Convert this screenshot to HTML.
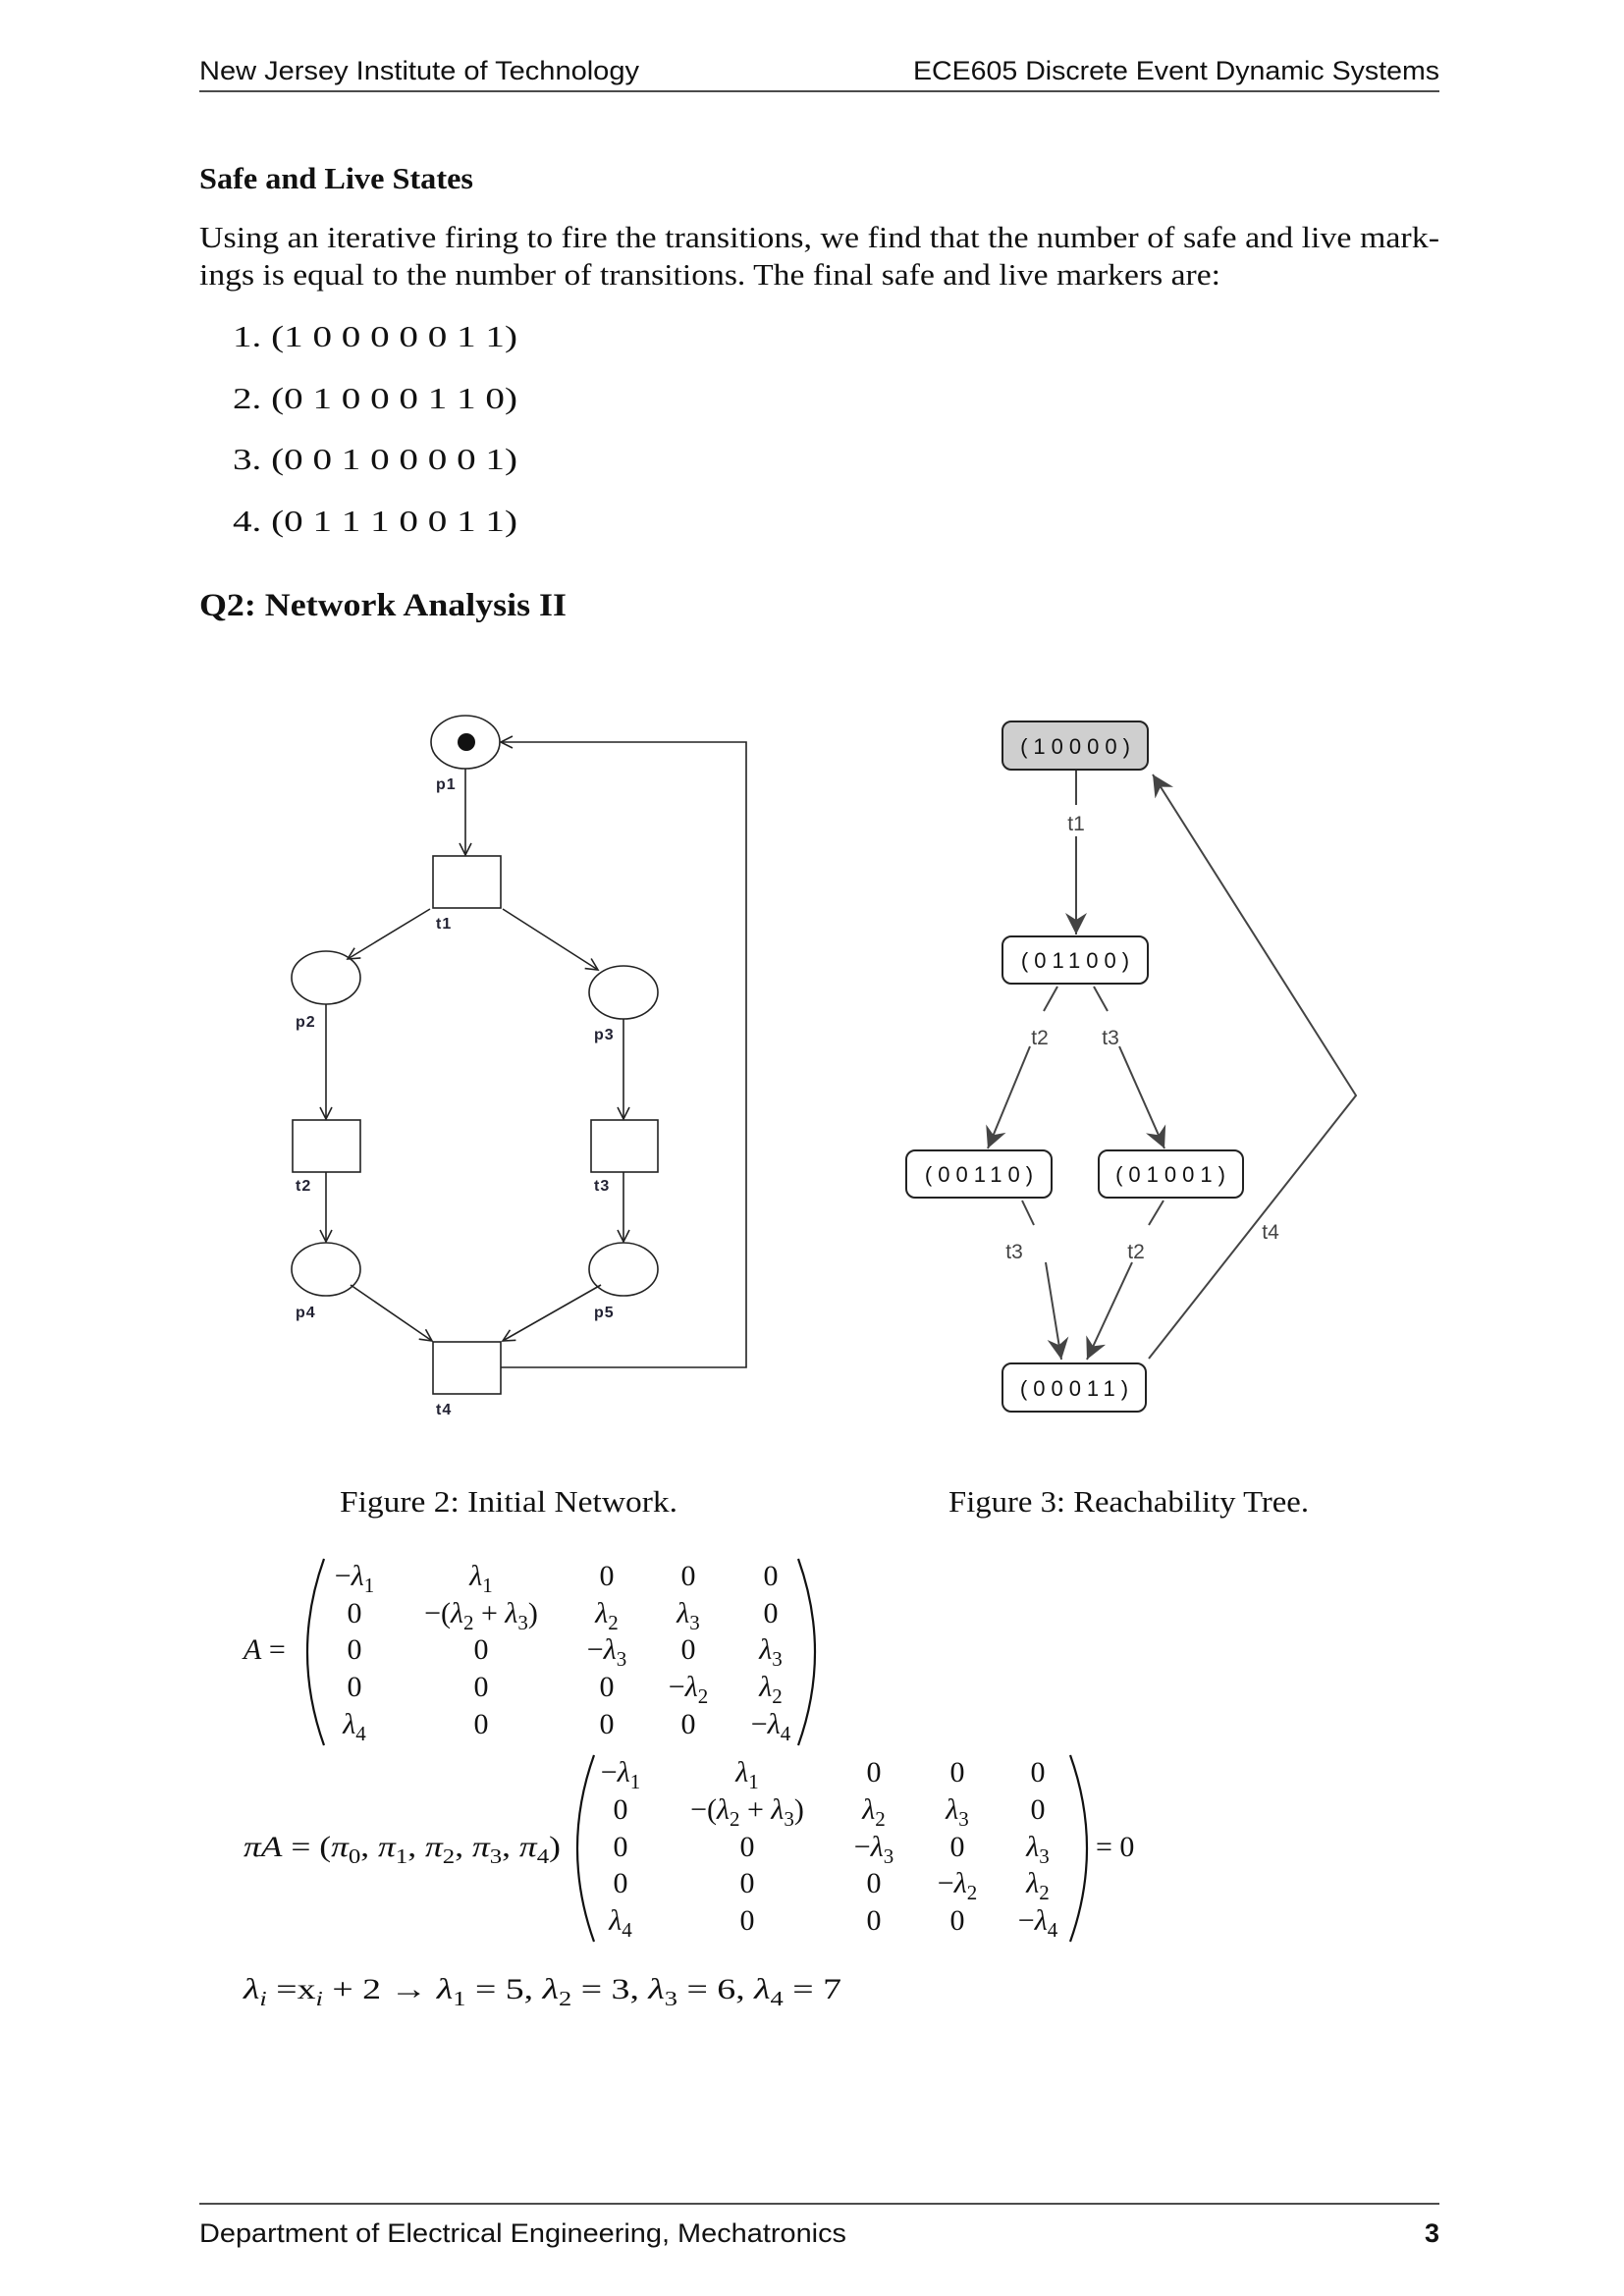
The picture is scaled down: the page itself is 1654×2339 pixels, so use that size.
<!DOCTYPE html>
<html><head><meta charset="utf-8"><style>
html,body{margin:0;padding:0;background:#fff;}
svg{display:block;}
.sans{font-family:"Liberation Sans",sans-serif;}
.ser{font-family:"Liberation Serif",serif;}
.it{font-style:italic;}
</style></head><body>
<svg width="1654" height="2339" viewBox="0 0 1654 2339" xmlns="http://www.w3.org/2000/svg">
<defs>
<marker id="va" markerUnits="userSpaceOnUse" markerWidth="20" markerHeight="20" refX="14" refY="7" orient="auto">
<path d="M2,1 L14,7 L2,13" fill="none" stroke="#222" stroke-width="1.6"/>
</marker>
<marker id="fa" markerUnits="userSpaceOnUse" markerWidth="30" markerHeight="30" refX="22" refY="11" orient="auto">
<path d="M0,0 L22,11 L0,22 L7,11 Z" fill="#444"/>
</marker>
</defs>
<g class="sans" font-size="27" fill="#111">
<text x="203" y="81" textLength="448" lengthAdjust="spacingAndGlyphs">New Jersey Institute of Technology</text>
<text x="1466" y="81" text-anchor="end" textLength="536" lengthAdjust="spacingAndGlyphs">ECE605 Discrete Event Dynamic Systems</text>
<text x="203" y="2284" textLength="659" lengthAdjust="spacingAndGlyphs">Department of Electrical Engineering, Mechatronics</text>
<text x="1466" y="2284" text-anchor="end" font-weight="bold">3</text>
</g>
<line x1="203" y1="93" x2="1466" y2="93" stroke="#111" stroke-width="1.6"/>
<line x1="203" y1="2245" x2="1466" y2="2245" stroke="#111" stroke-width="1.6"/>

<g class="ser" fill="#111" font-size="31">
<text x="203" y="192" font-weight="bold" textLength="279" lengthAdjust="spacingAndGlyphs">Safe and Live States</text>
<text x="203" y="252" textLength="1263" lengthAdjust="spacingAndGlyphs">Using an iterative firing to fire the transitions, we find that the number of safe and live mark-</text>
<text x="203" y="290" textLength="1040" lengthAdjust="spacingAndGlyphs">ings is equal to the number of transitions. The final safe and live markers are:</text>
<text x="237" y="353" textLength="290" lengthAdjust="spacingAndGlyphs">1. (1 0 0 0 0 0 1 1)</text>
<text x="237" y="416" textLength="290" lengthAdjust="spacingAndGlyphs">2. (0 1 0 0 0 1 1 0)</text>
<text x="237" y="478" textLength="290" lengthAdjust="spacingAndGlyphs">3. (0 0 1 0 0 0 0 1)</text>
<text x="237" y="541" textLength="290" lengthAdjust="spacingAndGlyphs">4. (0 1 1 1 0 0 1 1)</text>
<text x="203" y="627" font-weight="bold" font-size="33" textLength="374" lengthAdjust="spacingAndGlyphs">Q2: Network Analysis II</text>
<text x="346" y="1540" textLength="344" lengthAdjust="spacingAndGlyphs">Figure 2: Initial Network.</text>
<text x="966" y="1540" textLength="367" lengthAdjust="spacingAndGlyphs">Figure 3: Reachability Tree.</text>
</g>

<!-- Petri net -->
<g stroke="#222" stroke-width="1.6" fill="none">
<ellipse cx="474" cy="756" rx="35" ry="27"/>
<ellipse cx="332" cy="996" rx="35" ry="27"/>
<ellipse cx="635" cy="1011" rx="35" ry="27"/>
<ellipse cx="332" cy="1293" rx="35" ry="27"/>
<ellipse cx="635" cy="1293" rx="35" ry="27"/>
<rect x="441" y="872" width="69" height="53"/>
<rect x="298" y="1141" width="69" height="53"/>
<rect x="602" y="1141" width="68" height="53"/>
<rect x="441" y="1367" width="69" height="53"/>
<line x1="474" y1="783" x2="474" y2="871" marker-end="url(#va)"/>
<line x1="438" y1="926" x2="354" y2="977" marker-end="url(#va)"/>
<line x1="512" y1="926" x2="609" y2="988" marker-end="url(#va)"/>
<line x1="332" y1="1023" x2="332" y2="1140" marker-end="url(#va)"/>
<line x1="635" y1="1038" x2="635" y2="1140" marker-end="url(#va)"/>
<line x1="332" y1="1194" x2="332" y2="1265" marker-end="url(#va)"/>
<line x1="635" y1="1194" x2="635" y2="1265" marker-end="url(#va)"/>
<line x1="357" y1="1309" x2="440" y2="1366" marker-end="url(#va)"/>
<line x1="612" y1="1309" x2="512" y2="1366" marker-end="url(#va)"/>
<polyline points="510,1393 760,1393 760,756 510,756" marker-end="url(#va)"/>
</g>
<circle cx="475" cy="756" r="9" fill="#111"/>
<g class="sans" font-size="16" font-weight="bold" fill="#223" letter-spacing="1">
<text x="444" y="804">p1</text><text x="444" y="946">t1</text>
<text x="301" y="1046">p2</text><text x="605" y="1059">p3</text>
<text x="301" y="1213">t2</text><text x="605" y="1213">t3</text>
<text x="301" y="1342">p4</text><text x="605" y="1342">p5</text>
<text x="444" y="1441">t4</text>
</g>

<!-- Reachability tree -->
<g stroke="#444" stroke-width="2" fill="none">
<line x1="1096" y1="785" x2="1096" y2="820"/>
<line x1="1096" y1="852" x2="1096" y2="952" marker-end="url(#fa)"/>
<line x1="1077" y1="1005" x2="1063" y2="1030"/>
<line x1="1049" y1="1066" x2="1006" y2="1170" marker-end="url(#fa)"/>
<line x1="1114" y1="1005" x2="1128" y2="1030"/>
<line x1="1140" y1="1066" x2="1186" y2="1170" marker-end="url(#fa)"/>
<line x1="1041" y1="1223" x2="1053" y2="1248"/>
<line x1="1065" y1="1286" x2="1081" y2="1385" marker-end="url(#fa)"/>
<line x1="1185" y1="1223" x2="1170" y2="1248"/>
<line x1="1153" y1="1286" x2="1107" y2="1385" marker-end="url(#fa)"/>
<polyline points="1170,1384 1381,1116 1174,789" marker-end="url(#fa)"/>
</g>
<g stroke="#222" stroke-width="2">
<rect x="1021" y="735" width="148" height="49" rx="9" fill="#cfcfcf"/>
<rect x="1021" y="954" width="148" height="48" rx="9" fill="#fff"/>
<rect x="923" y="1172" width="148" height="48" rx="9" fill="#fff"/>
<rect x="1119" y="1172" width="147" height="48" rx="9" fill="#fff"/>
<rect x="1021" y="1389" width="146" height="49" rx="9" fill="#fff"/>
</g>
<g class="sans" font-size="22" fill="#111" text-anchor="middle" letter-spacing="6">
<text x="1098" y="768">(10000)</text>
<text x="1098" y="986">(01100)</text>
<text x="1000" y="1204">(00110)</text>
<text x="1195" y="1204">(01001)</text>
<text x="1097" y="1422">(00011)</text>
</g>
<g class="sans" font-size="21" fill="#444" text-anchor="middle">
<text x="1096" y="846">t1</text>
<text x="1059" y="1064">t2</text>
<text x="1131" y="1064">t3</text>
<text x="1033" y="1282">t3</text>
<text x="1157" y="1282">t2</text>
<text x="1294" y="1262">t4</text>
</g>

<!-- Matrix A -->
<g class="ser" font-size="30" fill="#111" text-anchor="middle">
<text x="248" y="1690" text-anchor="start"><tspan class="it">A</tspan> =</text>
<path d="M330,1588 Q296,1683 330,1778" fill="none" stroke="#111" stroke-width="2.2"/>
<path d="M813,1588 Q847,1683 813,1778" fill="none" stroke="#111" stroke-width="2.2"/>
<text x="361" y="1615">−<tspan class="it">λ</tspan><tspan font-size="21" dy="7">1</tspan></text>
<text x="490" y="1615"><tspan class="it">λ</tspan><tspan font-size="21" dy="7">1</tspan></text>
<text x="618" y="1615">0</text><text x="701" y="1615">0</text><text x="785" y="1615">0</text>
<text x="361" y="1653">0</text>
<text x="490" y="1653">−(<tspan class="it">λ</tspan><tspan font-size="21" dy="7">2</tspan><tspan dy="-7"> + </tspan><tspan class="it">λ</tspan><tspan font-size="21" dy="7">3</tspan><tspan dy="-7">)</tspan></text>
<text x="618" y="1653"><tspan class="it">λ</tspan><tspan font-size="21" dy="7">2</tspan></text>
<text x="701" y="1653"><tspan class="it">λ</tspan><tspan font-size="21" dy="7">3</tspan></text>
<text x="785" y="1653">0</text>
<text x="361" y="1690">0</text><text x="490" y="1690">0</text>
<text x="618" y="1690">−<tspan class="it">λ</tspan><tspan font-size="21" dy="7">3</tspan></text>
<text x="701" y="1690">0</text>
<text x="785" y="1690"><tspan class="it">λ</tspan><tspan font-size="21" dy="7">3</tspan></text>
<text x="361" y="1728">0</text><text x="490" y="1728">0</text><text x="618" y="1728">0</text>
<text x="701" y="1728">−<tspan class="it">λ</tspan><tspan font-size="21" dy="7">2</tspan></text>
<text x="785" y="1728"><tspan class="it">λ</tspan><tspan font-size="21" dy="7">2</tspan></text>
<text x="361" y="1766"><tspan class="it">λ</tspan><tspan font-size="21" dy="7">4</tspan></text>
<text x="490" y="1766">0</text><text x="618" y="1766">0</text><text x="701" y="1766">0</text>
<text x="785" y="1766">−<tspan class="it">λ</tspan><tspan font-size="21" dy="7">4</tspan></text>
</g>

<!-- piA -->
<g class="ser" font-size="30" fill="#111" text-anchor="middle">
<text x="248" y="1891" text-anchor="start" textLength="323" lengthAdjust="spacingAndGlyphs"><tspan class="it">πA</tspan> = (<tspan class="it">π</tspan><tspan font-size="21" dy="7">0</tspan><tspan dy="-7">, </tspan><tspan class="it">π</tspan><tspan font-size="21" dy="7">1</tspan><tspan dy="-7">, </tspan><tspan class="it">π</tspan><tspan font-size="21" dy="7">2</tspan><tspan dy="-7">, </tspan><tspan class="it">π</tspan><tspan font-size="21" dy="7">3</tspan><tspan dy="-7">, </tspan><tspan class="it">π</tspan><tspan font-size="21" dy="7">4</tspan><tspan dy="-7">)</tspan></text>
<path d="M605,1788 Q571,1883 605,1978" fill="none" stroke="#111" stroke-width="2.2"/>
<path d="M1090,1788 Q1124,1883 1090,1978" fill="none" stroke="#111" stroke-width="2.2"/>
<text x="1116" y="1891" text-anchor="start">= 0</text>
<text x="632" y="1815">−<tspan class="it">λ</tspan><tspan font-size="21" dy="7">1</tspan></text>
<text x="761" y="1815"><tspan class="it">λ</tspan><tspan font-size="21" dy="7">1</tspan></text>
<text x="890" y="1815">0</text><text x="975" y="1815">0</text><text x="1057" y="1815">0</text>
<text x="632" y="1853">0</text>
<text x="761" y="1853">−(<tspan class="it">λ</tspan><tspan font-size="21" dy="7">2</tspan><tspan dy="-7"> + </tspan><tspan class="it">λ</tspan><tspan font-size="21" dy="7">3</tspan><tspan dy="-7">)</tspan></text>
<text x="890" y="1853"><tspan class="it">λ</tspan><tspan font-size="21" dy="7">2</tspan></text>
<text x="975" y="1853"><tspan class="it">λ</tspan><tspan font-size="21" dy="7">3</tspan></text>
<text x="1057" y="1853">0</text>
<text x="632" y="1891">0</text><text x="761" y="1891">0</text>
<text x="890" y="1891">−<tspan class="it">λ</tspan><tspan font-size="21" dy="7">3</tspan></text>
<text x="975" y="1891">0</text>
<text x="1057" y="1891"><tspan class="it">λ</tspan><tspan font-size="21" dy="7">3</tspan></text>
<text x="632" y="1928">0</text><text x="761" y="1928">0</text><text x="890" y="1928">0</text>
<text x="975" y="1928">−<tspan class="it">λ</tspan><tspan font-size="21" dy="7">2</tspan></text>
<text x="1057" y="1928"><tspan class="it">λ</tspan><tspan font-size="21" dy="7">2</tspan></text>
<text x="632" y="1966"><tspan class="it">λ</tspan><tspan font-size="21" dy="7">4</tspan></text>
<text x="761" y="1966">0</text><text x="890" y="1966">0</text><text x="975" y="1966">0</text>
<text x="1057" y="1966">−<tspan class="it">λ</tspan><tspan font-size="21" dy="7">4</tspan></text>
<text x="248" y="2036" text-anchor="start" textLength="609" lengthAdjust="spacingAndGlyphs"><tspan class="it">λ</tspan><tspan class="it" font-size="21" dy="7">i</tspan><tspan dy="-7"> =x</tspan><tspan class="it" font-size="21" dy="7">i</tspan><tspan dy="-7"> + 2 → </tspan><tspan class="it">λ</tspan><tspan font-size="21" dy="7">1</tspan><tspan dy="-7"> = 5, </tspan><tspan class="it">λ</tspan><tspan font-size="21" dy="7">2</tspan><tspan dy="-7"> = 3, </tspan><tspan class="it">λ</tspan><tspan font-size="21" dy="7">3</tspan><tspan dy="-7"> = 6, </tspan><tspan class="it">λ</tspan><tspan font-size="21" dy="7">4</tspan><tspan dy="-7"> = 7</tspan></text>
</g>
</svg>
</body></html>
